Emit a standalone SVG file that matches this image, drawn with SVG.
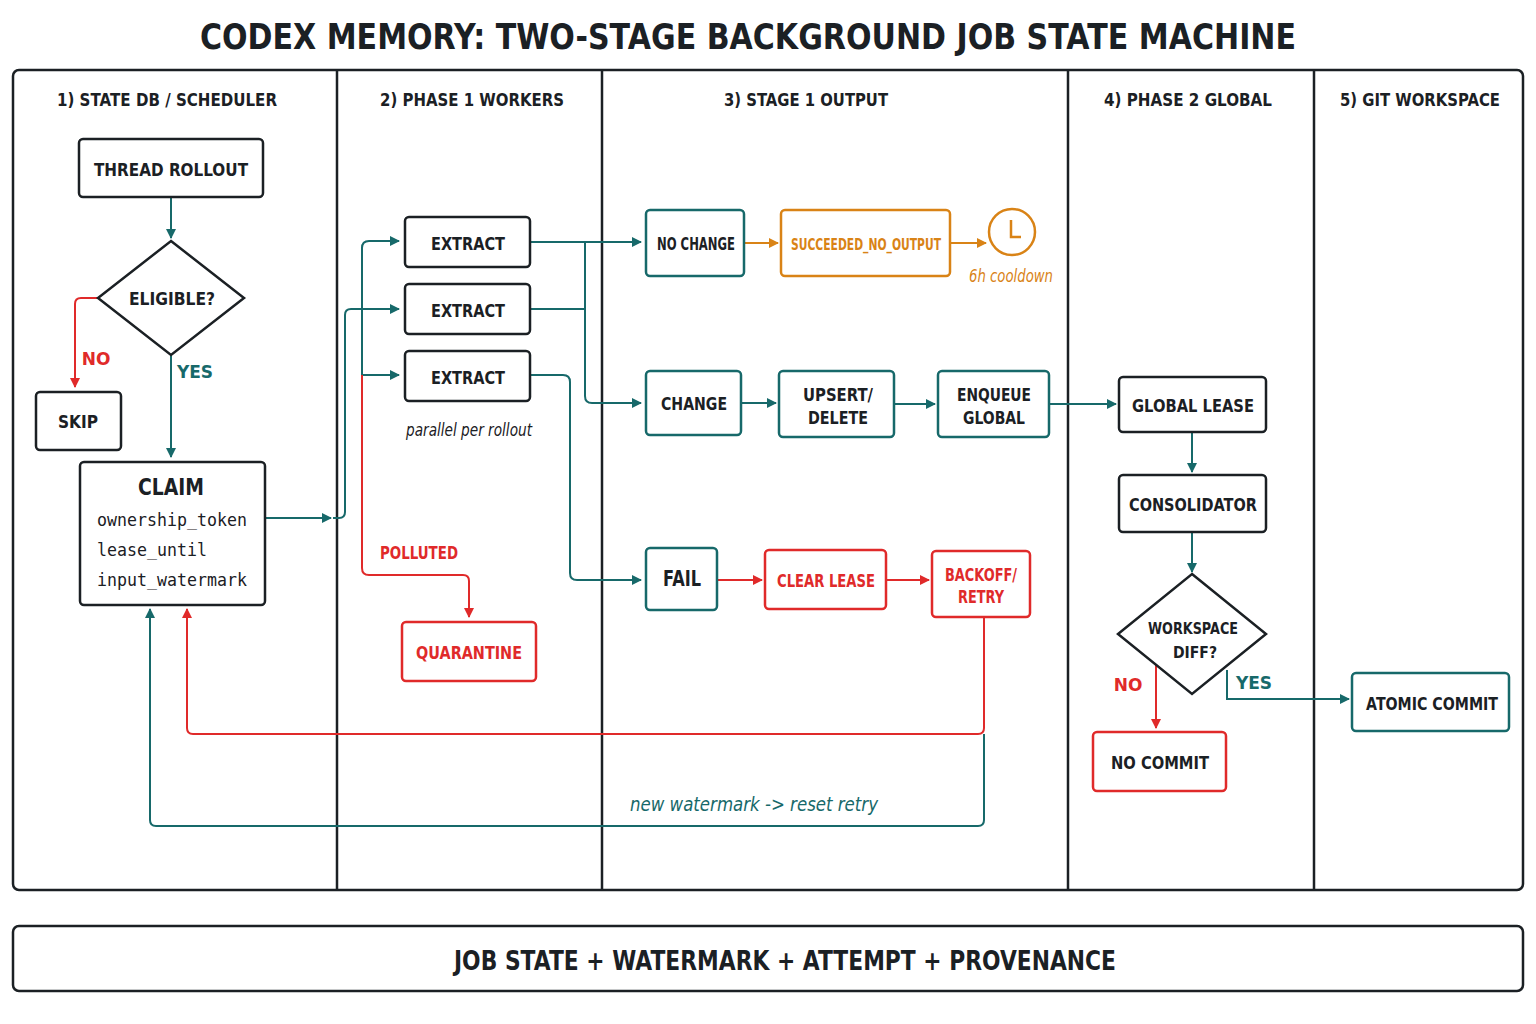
<svg xmlns="http://www.w3.org/2000/svg" width="1536" height="1024" viewBox="0 0 1536 1024">
<defs>
<marker id="at" markerWidth="10" markerHeight="10" refX="9" refY="5" orient="auto" markerUnits="userSpaceOnUse"><path d="M0,0 L10,5 L0,10 z" fill="#17696a"/></marker>
<marker id="ar" markerWidth="10" markerHeight="10" refX="9" refY="5" orient="auto" markerUnits="userSpaceOnUse"><path d="M0,0 L10,5 L0,10 z" fill="#e02a2a"/></marker>
<marker id="ao" markerWidth="10" markerHeight="10" refX="9" refY="5" orient="auto" markerUnits="userSpaceOnUse"><path d="M0,0 L10,5 L0,10 z" fill="#d98316"/></marker>
</defs>
<style>
text{font-family:"DejaVu Sans",sans-serif;font-weight:bold;text-anchor:middle;dominant-baseline:central}
.k{fill:#fff;stroke:#1b2024;stroke-width:2.5}
.r{fill:#fff;stroke:#e02a2a;stroke-width:2.5}
.o{fill:#fff;stroke:#d98316;stroke-width:2.5}
.t{fill:#fff;stroke:#17696a;stroke-width:2.5}
.n{font-size:18px;fill:#1b2024}
.rt{fill:#e02a2a}
.ot{fill:#d98316}
.tt{fill:#17696a}
.h{font-size:18px;fill:#1b2024}
.lt{fill:none;stroke:#17696a;stroke-width:2;marker-end:url(#at)}
.lr{fill:none;stroke:#e02a2a;stroke-width:2;marker-end:url(#ar)}
.lo{fill:none;stroke:#d98316;stroke-width:2;marker-end:url(#ao)}
.i{font-style:italic;font-weight:normal;font-size:17px}
.m{font-family:"DejaVu Sans Mono",monospace;font-weight:normal;font-size:17px;text-anchor:start;fill:#1b2024}
</style>
<rect width="1536" height="1024" fill="#fff"/>
<text x="748" y="36" style="font-size:36px" fill="#1b2024" textLength="1096" lengthAdjust="spacingAndGlyphs">CODEX MEMORY: TWO-STAGE BACKGROUND JOB STATE MACHINE</text>
<g id="lanes" fill="none" stroke="#1b2024" stroke-width="2.5">
<rect x="13" y="70" width="1510" height="820" rx="6"/>
<path d="M337,70V890M602,70V890M1068,70V890M1314,70V890"/>
</g>
<g id="headers">
<text class="h" x="167" y="99" textLength="220" lengthAdjust="spacingAndGlyphs">1) STATE DB / SCHEDULER</text>
<text class="h" x="472" y="99" textLength="184" lengthAdjust="spacingAndGlyphs">2) PHASE 1 WORKERS</text>
<text class="h" x="806" y="99" textLength="164" lengthAdjust="spacingAndGlyphs">3) STAGE 1 OUTPUT</text>
<text class="h" x="1188" y="99" textLength="168" lengthAdjust="spacingAndGlyphs">4) PHASE 2 GLOBAL</text>
<text class="h" x="1420" y="99" textLength="160" lengthAdjust="spacingAndGlyphs">5) GIT WORKSPACE</text>
</g>
<g id="connectors">
<path class="lt" d="M171,197V238"/>
<path class="lr" d="M98,298H81Q75,298 75,304V387"/>
<path class="lt" d="M171,355V457"/>
<path class="lt" d="M265,518H331"/>
<path fill="none" stroke="#17696a" stroke-width="2" d="M333,518H339Q345,518 345,512V315"/>
<path class="lt" d="M345,315Q345,309 351,309H399"/>
<path class="lt" d="M362,248Q362,241 369,241H399"/>
<path class="lt" d="M362,375H399"/>
<path fill="none" stroke="#17696a" stroke-width="2" d="M362,248V375"/>
<path class="lr" d="M362,375V568Q362,575 369,575H463Q469,575 469,581V617"/>
<path class="lt" d="M530,242H641"/>
<path fill="none" stroke="#17696a" stroke-width="2" d="M530,309H585M585,242V396"/>
<path class="lt" d="M585,396Q585,403 592,403H641"/>
<path class="lt" d="M530,375H563Q570,375 570,382V573Q570,580 577,580H641"/>
<path class="lo" d="M744,243H778"/>
<path class="lo" d="M950,243H986"/>
<path class="lt" d="M741,403H776"/>
<path class="lt" d="M894,404H935"/>
<path class="lt" d="M1049,404H1116"/>
<path class="lr" d="M717,580H762"/>
<path class="lr" d="M886,580H929"/>
<path class="lr" d="M984,617V728Q984,734 978,734H193Q187,734 187,728V609"/>
<path class="lt" d="M984,734V820Q984,826 978,826H156Q150,826 150,820V609"/>
<path class="lt" d="M1192,432V472"/>
<path class="lt" d="M1192,532V572"/>
<path class="lr" d="M1156,665V728"/>
<path class="lt" d="M1227,670V699H1349"/>
<text class="rt" x="96" y="359" style="font-size:17px">NO</text>
<text class="tt" x="195" y="372" style="font-size:17px">YES</text>
<text class="rt" x="419" y="553" style="font-size:17px" textLength="78" lengthAdjust="spacingAndGlyphs">POLLUTED</text>
<text class="tt i" x="754" y="804" style="font-size:20px" textLength="248" lengthAdjust="spacingAndGlyphs">new watermark -&gt; reset retry</text>
<text class="rt" x="1128" y="685" style="font-size:17px">NO</text>
<text class="tt" x="1254" y="683" style="font-size:17px">YES</text>
</g>
<g id="thread"><rect class="k" x="79" y="139" width="184" height="58" rx="4"/><text class="n" x="171" y="169" textLength="154" lengthAdjust="spacingAndGlyphs">THREAD ROLLOUT</text></g>
<g id="eligible"><path class="k" d="M171,241L244,298L171,355L98,298Z"/><text class="n" x="172" y="298" textLength="86" lengthAdjust="spacingAndGlyphs">ELIGIBLE?</text></g>
<g id="skip"><rect class="k" x="36" y="392" width="85" height="58" rx="4"/><text class="n" x="78" y="421" textLength="40" lengthAdjust="spacingAndGlyphs">SKIP</text></g>
<g id="claim"><rect class="k" x="80" y="462" width="185" height="143" rx="4"/><text class="n" x="171" y="487" style="font-size:23px" textLength="66" lengthAdjust="spacingAndGlyphs">CLAIM</text>
<text class="m" x="97" y="520" textLength="150" lengthAdjust="spacingAndGlyphs">ownership_token</text><text class="m" x="97" y="550" textLength="110" lengthAdjust="spacingAndGlyphs">lease_until</text><text class="m" x="97" y="580" textLength="150" lengthAdjust="spacingAndGlyphs">input_watermark</text></g>
<g id="extract1"><rect class="k" x="405" y="217" width="125" height="50" rx="4"/><text class="n" x="468" y="243" textLength="74" lengthAdjust="spacingAndGlyphs">EXTRACT</text></g>
<g id="extract2"><rect class="k" x="405" y="284" width="125" height="50" rx="4"/><text class="n" x="468" y="310" textLength="74" lengthAdjust="spacingAndGlyphs">EXTRACT</text></g>
<g id="extract3"><rect class="k" x="405" y="351" width="125" height="50" rx="4"/><text class="n" x="468" y="377" textLength="74" lengthAdjust="spacingAndGlyphs">EXTRACT</text></g>
<text class="i" x="469" y="430" fill="#1b2024" textLength="126" lengthAdjust="spacingAndGlyphs">parallel per rollout</text>
<g id="quarantine"><rect class="r" x="402" y="622" width="134" height="59" rx="4"/><text class="n rt" x="469" y="652" textLength="106" lengthAdjust="spacingAndGlyphs">QUARANTINE</text></g>
<g id="nochange"><rect class="t" x="646" y="210" width="98" height="66" rx="4"/><text class="n" x="696" y="244" style="font-size:17px" textLength="78" lengthAdjust="spacingAndGlyphs">NO CHANGE</text></g>
<g id="succeeded"><rect class="o" x="781" y="210" width="169" height="66" rx="4"/><text class="ot" x="866" y="244" style="font-size:16px" textLength="150" lengthAdjust="spacingAndGlyphs">SUCCEEDED_NO_OUTPUT</text></g>
<g id="clock"><circle cx="1012" cy="232" r="23" fill="#fff" stroke="#d98316" stroke-width="2.5"/><path d="M1011,220V237H1021" fill="none" stroke="#d98316" stroke-width="2.5"/><text class="ot i" x="1011" y="276" textLength="84" lengthAdjust="spacingAndGlyphs">6h cooldown</text></g>
<g id="change"><rect class="t" x="646" y="371" width="95" height="64" rx="4"/><text class="n" x="694" y="403" textLength="66" lengthAdjust="spacingAndGlyphs">CHANGE</text></g>
<g id="upsert"><rect class="t" x="779" y="371" width="115" height="66" rx="4"/><text class="n" x="838" y="394" textLength="70" lengthAdjust="spacingAndGlyphs">UPSERT/</text><text class="n" x="838" y="417" textLength="60" lengthAdjust="spacingAndGlyphs">DELETE</text></g>
<g id="enqueue"><rect class="t" x="938" y="371" width="111" height="66" rx="4"/><text class="n" x="994" y="394" textLength="74" lengthAdjust="spacingAndGlyphs">ENQUEUE</text><text class="n" x="994" y="417" textLength="62" lengthAdjust="spacingAndGlyphs">GLOBAL</text></g>
<g id="fail"><rect class="t" x="646" y="548" width="71" height="62" rx="4"/><text class="n" x="682" y="579" style="font-size:21px" textLength="38" lengthAdjust="spacingAndGlyphs">FAIL</text></g>
<g id="clearlease"><rect class="r" x="765" y="550" width="121" height="59" rx="4"/><text class="n rt" x="826" y="580" textLength="98" lengthAdjust="spacingAndGlyphs">CLEAR LEASE</text></g>
<g id="backoff"><rect class="r" x="932" y="551" width="98" height="66" rx="4"/><text class="rt" x="981" y="575" style="font-size:17px" textLength="72" lengthAdjust="spacingAndGlyphs">BACKOFF/</text><text class="rt" x="981" y="597" style="font-size:17px" textLength="46" lengthAdjust="spacingAndGlyphs">RETRY</text></g>
<g id="globallease"><rect class="k" x="1119" y="377" width="147" height="55" rx="4"/><text class="n" x="1193" y="405" textLength="122" lengthAdjust="spacingAndGlyphs">GLOBAL LEASE</text></g>
<g id="consolidator"><rect class="k" x="1119" y="475" width="147" height="57" rx="4"/><text class="n" x="1193" y="504" textLength="128" lengthAdjust="spacingAndGlyphs">CONSOLIDATOR</text></g>
<g id="diff"><path class="k" d="M1192,574L1266,634L1192,694L1118,634Z"/><text x="1193" y="628" style="font-size:16px" fill="#1b2024" textLength="90" lengthAdjust="spacingAndGlyphs">WORKSPACE</text><text x="1195" y="652" style="font-size:16px" fill="#1b2024" textLength="44" lengthAdjust="spacingAndGlyphs">DIFF?</text></g>
<g id="nocommit"><rect class="r" x="1093" y="732" width="133" height="59" rx="4"/><text class="n" x="1160" y="762" textLength="98" lengthAdjust="spacingAndGlyphs">NO COMMIT</text></g>
<g id="atomic"><rect class="t" x="1352" y="673" width="157" height="58" rx="4"/><text class="n" x="1432" y="703" textLength="132" lengthAdjust="spacingAndGlyphs">ATOMIC COMMIT</text></g>
<g id="footer"><rect x="13" y="926" width="1510" height="65" rx="6" fill="#fff" stroke="#1b2024" stroke-width="2.5"/><text x="785" y="961" style="font-size:26px" fill="#1b2024" textLength="662" lengthAdjust="spacingAndGlyphs">JOB STATE  +  WATERMARK + ATTEMPT + PROVENANCE</text></g>
</svg>
